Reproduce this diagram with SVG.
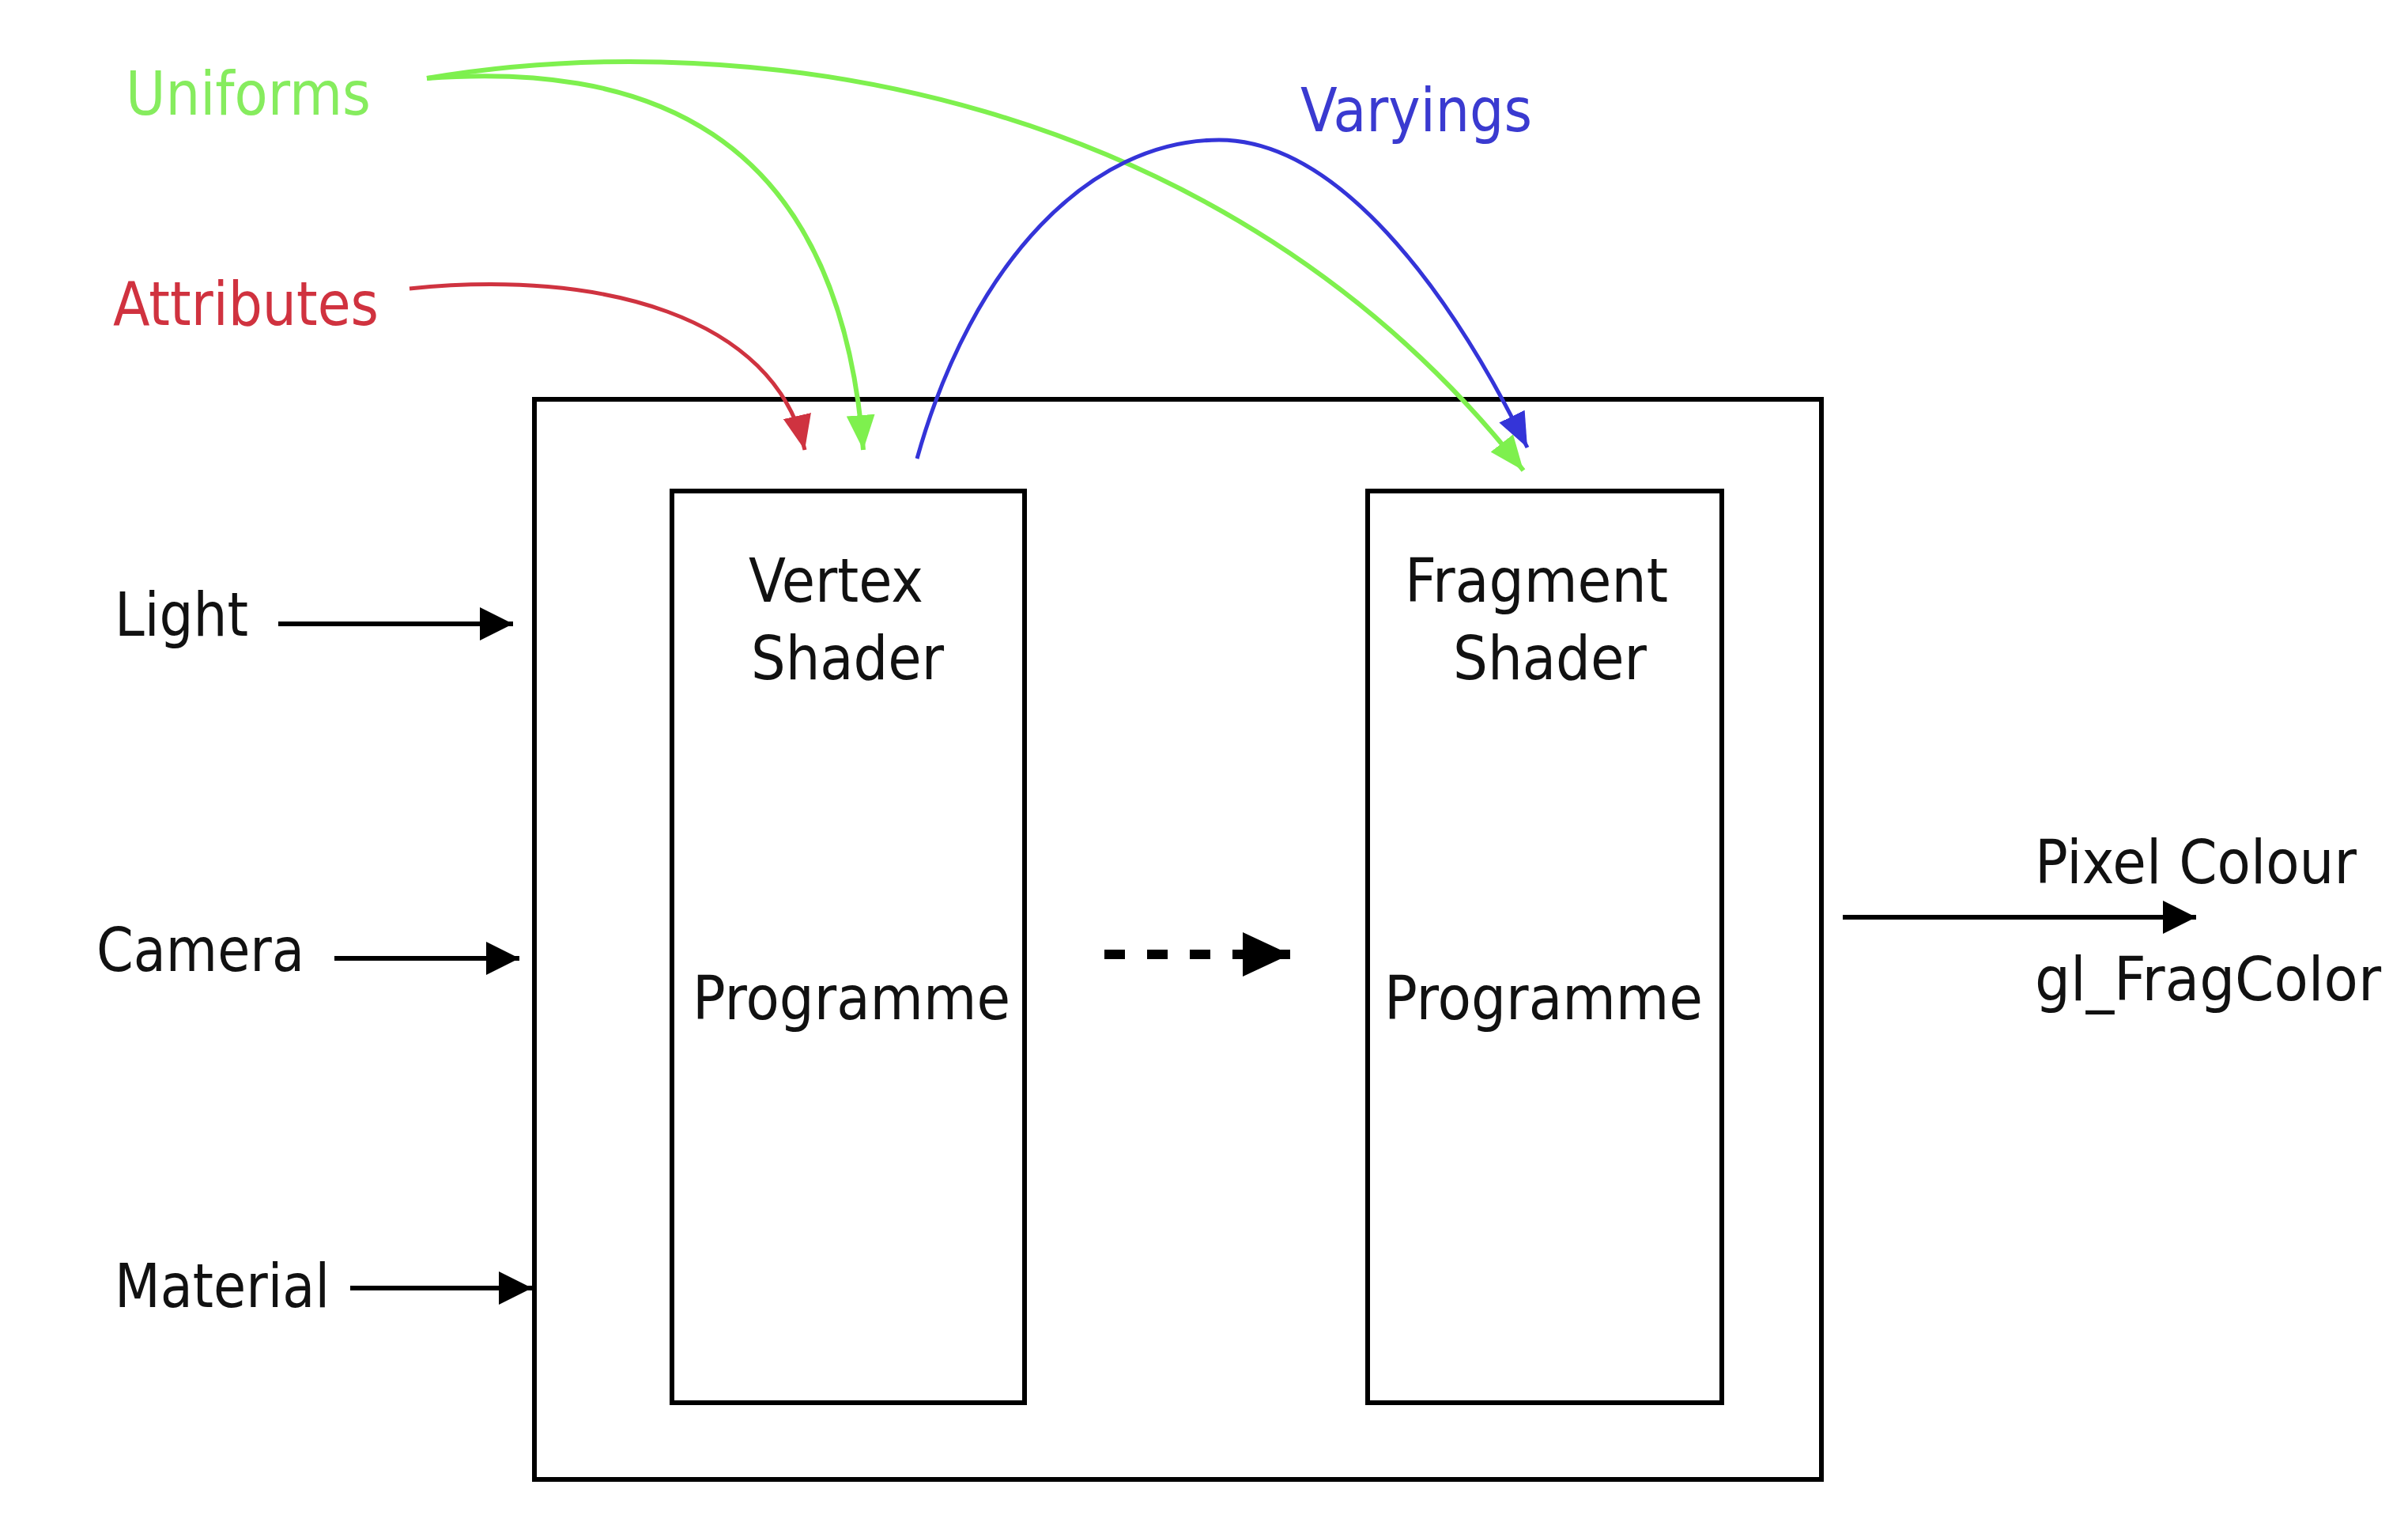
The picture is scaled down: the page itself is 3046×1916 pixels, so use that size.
<svg xmlns="http://www.w3.org/2000/svg" width="3046" height="1916" viewBox="0 0 3046 1916">
<style>
  text { font-family: "DejaVu Sans", "Liberation Sans", sans-serif; font-size: 77px; }
  .blk { fill: #111; }
  .box { fill: none; stroke: #000; stroke-width: 6; }
  .arr { stroke: #000; stroke-width: 6; fill: none; }
  .g { stroke: #7ef04e; stroke-width: 6; fill: none; }
  .r { stroke: #cf3340; stroke-width: 5; fill: none; }
  .b { stroke: #3434d8; stroke-width: 5; fill: none; }
</style>
<defs>
  <marker id="mBlk" markerUnits="userSpaceOnUse" markerWidth="44" markerHeight="42" viewBox="0 0 40 40" refX="40" refY="20" orient="auto">
    <path d="M0,0 L40,20 L0,40 Z" fill="#000"/>
  </marker>
  <marker id="mBig" markerUnits="userSpaceOnUse" markerWidth="60" markerHeight="56" viewBox="0 0 60 56" refX="60" refY="28" orient="auto">
    <path d="M0,0 L60,28 L0,56 Z" fill="#000"/>
  </marker>
  <marker id="mG" markerUnits="userSpaceOnUse" markerWidth="44" markerHeight="36" viewBox="0 0 44 36" refX="44" refY="18" orient="auto">
    <path d="M0,0 L44,18 L0,36 Z" fill="#7ef04e"/>
  </marker>
  <marker id="mR" markerUnits="userSpaceOnUse" markerWidth="44" markerHeight="36" viewBox="0 0 44 36" refX="44" refY="18" orient="auto">
    <path d="M0,0 L44,18 L0,36 Z" fill="#cf3340"/>
  </marker>
  <marker id="mB" markerUnits="userSpaceOnUse" markerWidth="44" markerHeight="36" viewBox="0 0 44 36" refX="44" refY="18" orient="auto">
    <path d="M0,0 L44,18 L0,36 Z" fill="#3434d8"/>
  </marker>
</defs>
<rect width="3046" height="1916" fill="#fff"/>

<g id="program">
  <rect class="box" x="676" y="505" width="1628" height="1366"/>
</g>
<g id="vertex-shader">
  <rect class="box" x="850" y="621" width="446" height="1153"/>
  <text class="blk" x="947" y="761" textLength="221" lengthAdjust="spacingAndGlyphs">Vertex</text>
  <text class="blk" x="950" y="859" textLength="244" lengthAdjust="spacingAndGlyphs">Shader</text>
  <text class="blk" x="876" y="1289" textLength="402" lengthAdjust="spacingAndGlyphs">Programme</text>
</g>
<g id="fragment-shader">
  <rect class="box" x="1730" y="621" width="448" height="1153"/>
  <text class="blk" x="1777" y="761" textLength="333" lengthAdjust="spacingAndGlyphs">Fragment</text>
  <text class="blk" x="1838" y="859" textLength="245" lengthAdjust="spacingAndGlyphs">Shader</text>
  <text class="blk" x="1751" y="1289" textLength="403" lengthAdjust="spacingAndGlyphs">Programme</text>
</g>
<g id="uniforms">
  <text x="159" y="145" fill="#86ec5e" textLength="310" lengthAdjust="spacingAndGlyphs">Uniforms</text>
</g>
<g id="attributes">
  <text x="143" y="411" fill="#d0323f" textLength="336" lengthAdjust="spacingAndGlyphs">Attributes</text>
</g>
<g id="varyings">
  <text x="1645" y="166" fill="#3a3ad0" textLength="293" lengthAdjust="spacingAndGlyphs">Varyings</text>
</g>
<g id="light">
  <text class="blk" x="145" y="804" textLength="169" lengthAdjust="spacingAndGlyphs">Light</text>
</g>
<g id="camera">
  <text class="blk" x="122" y="1228" textLength="263" lengthAdjust="spacingAndGlyphs">Camera</text>
</g>
<g id="material">
  <text class="blk" x="145" y="1653" textLength="272" lengthAdjust="spacingAndGlyphs">Material</text>
</g>
<g id="output">
  <text class="blk" x="2574" y="1117" textLength="407" lengthAdjust="spacingAndGlyphs">Pixel Colour</text>
  <text class="blk" x="2574" y="1265" textLength="438" lengthAdjust="spacingAndGlyphs">gl_FragColor</text>
</g>

<g id="connectors">
  <line class="arr" x1="352" y1="789" x2="649" y2="789" marker-end="url(#mBlk)"/>
  <line class="arr" x1="423" y1="1212" x2="657" y2="1212" marker-end="url(#mBlk)"/>
  <line class="arr" x1="443" y1="1629" x2="673" y2="1629" marker-end="url(#mBlk)"/>
  <line class="arr" x1="2331" y1="1160" x2="2778" y2="1160" marker-end="url(#mBlk)"/>
  <line x1="1397" y1="1207" x2="1632" y2="1207" stroke="#000" stroke-width="12" stroke-dasharray="26 28" marker-end="url(#mBig)"/>
  <path class="r" d="M518,365 C760,340 980,400 1018,569" marker-end="url(#mR)"/>
  <path class="g" d="M540,99 C800,80 1060,150 1092,569" marker-end="url(#mG)"/>
  <path class="g" d="M540,99 C950,30 1550,115 1927,595" marker-end="url(#mG)"/>
  <path class="b" d="M1160,580 C1230,330 1380,177 1542,177 C1690,177 1830,360 1932,566" marker-end="url(#mB)"/>
</g>
</svg>
